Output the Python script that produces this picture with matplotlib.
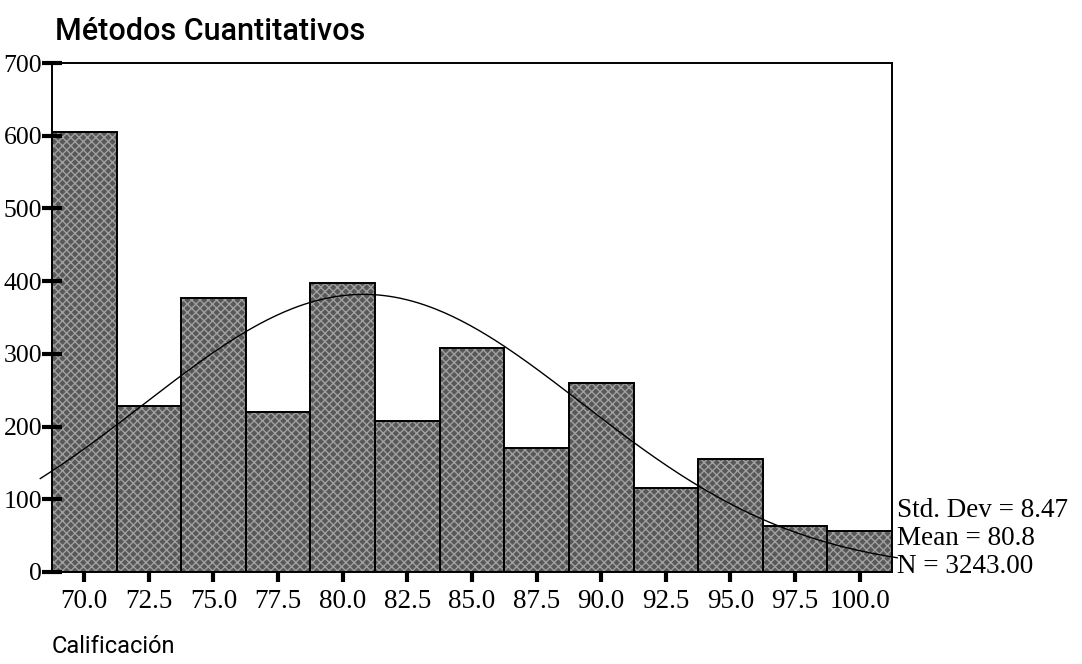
import numpy as np
import matplotlib
matplotlib.use("Agg")
import matplotlib.pyplot as plt

# Histogram of grades (bin centres) and counts
bin_centers = [70.0, 72.5, 75.0, 77.5, 80.0, 82.5, 85.0, 87.5, 90.0, 92.5, 95.0, 97.5, 100.0]
counts = [605, 228, 377, 220, 397, 208, 308, 170, 260, 116, 155, 63, 56]
bin_width = 2.5

# Summary statistics printed on the chart
std_dev = 8.47
mean = 80.8
n_total = 3243.00

y_ticks = [0, 100, 200, 300, 400, 500, 600, 700]
x_ticks = [70.0, 72.5, 75.0, 77.5, 80.0, 82.5, 85.0, 87.5, 90.0, 92.5, 95.0, 97.5, 100.0]

SANS = ["Roboto", "DejaVu Sans"]
SERIF = ["Liberation Serif", "DejaVu Serif"]

fig = plt.figure(figsize=(10.82, 6.64), dpi=100)
ax = fig.add_axes([0.048, 0.1386, 0.7764, 0.7664])
ax.set_axisbelow(False)  # tick marks show on top of the bars

ax.bar(bin_centers, counts, width=bin_width, color="#585858", edgecolor="#a0a0a0",
       linewidth=0, hatch="xxxx", zorder=1)
# black outline drawn on top so the hatch can stay light
ax.bar(bin_centers, counts, width=bin_width, facecolor="none", edgecolor="black",
       linewidth=1.4, zorder=1.2)

# fitted normal curve from the printed mean / std dev / N
xs = np.linspace(68.3, 101.45, 300)
ys = n_total * bin_width / (std_dev * np.sqrt(2 * np.pi)) * np.exp(-0.5 * ((xs - mean) / std_dev) ** 2)
ax.plot(xs, ys, color="black", linewidth=1.0, zorder=4, clip_on=False)

ax.set_xlim(68.75, 101.25)
ax.set_ylim(0, 700)
ax.set_yticks(y_ticks)
ax.set_yticklabels([str(t) for t in y_ticks], family=SERIF, fontsize=18.5)
ax.set_xticks(x_ticks)
ax.set_xticklabels([f"{t:.1f}" for t in x_ticks], family=SERIF, fontsize=19.5)
ax.tick_params(axis="y", direction="inout", length=14, width=3, pad=0)
ax.tick_params(axis="x", direction="out", length=7, width=3, pad=5)
for s in ax.spines.values():
    s.set_linewidth(1.4)

fig.text(0.051, 0.952, "Métodos Cuantitativos", family=SANS, fontsize=22,
         fontweight="medium", ha="left", va="center")
fig.text(0.048, 0.027, "Calificación", family=SANS, fontsize=17,
         ha="left", va="center")

stats = [f"Std. Dev = {std_dev:.2f}", f"Mean = {mean:.1f}", f"N = {n_total:.2f}"]
for i, line in enumerate(stats):
    ax.text(1.006, 0.12 - i * 0.055, line, transform=ax.transAxes, family=SERIF,
            fontsize=19.5, ha="left", va="center")

fig.savefig("out.png", dpi=100)
